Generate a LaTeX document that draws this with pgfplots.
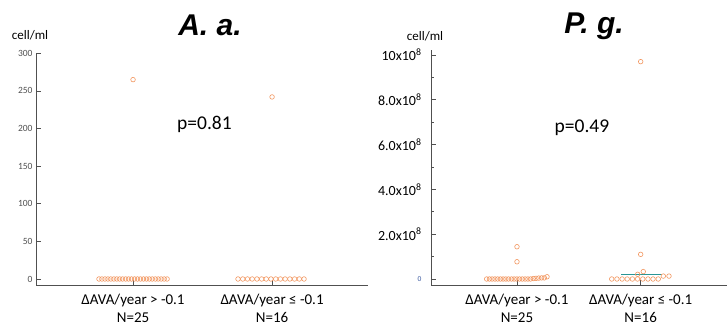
\documentclass[border=0pt]{standalone}
\usepackage{fontspec}
\setmainfont{Carlito}
\newfontfamily\titlefont{Liberation Sans}
\usepackage{pgfplots}
\pgfplotsset{compat=1.18}
\definecolor{dotorange}{RGB}{242,150,95}
\definecolor{axisgray}{RGB}{80,80,80}
\definecolor{medteal}{RGB}{40,150,150}
\definecolor{zeroblue}{RGB}{60,90,160}
\begin{document}
\begin{tikzpicture}
\useasboundingbox (0pt,0pt) rectangle (727pt,325pt);
% ---------- left panel ----------
\begin{axis}[
  at={(36pt,40pt)}, anchor=south west, scale only axis,
  width=332pt, height=231.7pt,
  xmin=0.302, xmax=2.69, ymin=-8, ymax=300,
  axis x line=bottom, axis y line=left,
  axis line style={-, draw=axisgray, line width=0.8pt},
  tick style={draw=axisgray, line width=0.6pt},
  tick align=inside, major tick length=5pt,
  xtick={1,2},
  xticklabels={{ΔAVA/year > -0.1\\N=25},{ΔAVA/year ≤ -0.1\\N=16}},
  xticklabel style={align=center, font=\fontsize{15}{17.5}\selectfont, text=black, yshift=-6pt},
  ytick={0,50,100,150,200,250,300},
  yticklabel style={font=\fontsize{9.5}{10}\selectfont, text=axisgray},
  /pgf/number format/assume math mode=true,
  clip=false,
]
\addplot[only marks, mark=o, mark size=2.3pt, dotorange, line width=0.6pt] coordinates {
(0.755,0)(0.776,0)(0.798,0)(0.819,0)(0.840,0)(0.862,0)(0.883,0)(0.904,0)(0.925,0)(0.947,0)(0.968,0)(0.989,0)(1.011,0)(1.032,0)(1.053,0)(1.075,0)(1.096,0)(1.117,0)(1.138,0)(1.160,0)(1.181,0)(1.202,0)(1.224,0)(1.245,0)
(1.0,265)
};
\addplot[only marks, mark=o, mark size=2.3pt, dotorange, line width=0.6pt] coordinates {
(1.755,0)(1.789,0)(1.823,0)(1.857,0)(1.891,0)(1.925,0)(1.958,0)(1.992,0)(2.026,0)(2.060,0)(2.094,0)(2.128,0)(2.162,0)(2.196,0)(2.230,0)
(2.0,242)
};
\end{axis}
% ---------- right panel ----------
\begin{axis}[
  at={(431pt,40pt)}, anchor=south west, scale only axis,
  width=296pt, height=235pt,
  xmin=0.305, xmax=2.698, ymin=-0.268, ymax=10.22,
  axis x line=bottom, axis y line=left,
  axis line style={-, draw=axisgray, line width=0.8pt},
  tick style={draw=axisgray, line width=0.6pt},
  tick align=inside, major tick length=5pt, minor tick length=3pt,
  xtick={1,2},
  xticklabels={{ΔAVA/year > -0.1\\N=25},{ΔAVA/year ≤ -0.1\\N=16}},
  xticklabel style={align=center, font=\fontsize{15}{17.5}\selectfont, text=black, yshift=-6pt},
  ytick={0,2,4,6,8,10},
  minor ytick={1,3,5,7,9},
  yticklabels={{\color{zeroblue}\fontsize{7.5}{8}\selectfont 0},2.0x10\textsuperscript{8},4.0x10\textsuperscript{8},6.0x10\textsuperscript{8},8.0x10\textsuperscript{8},10x10\textsuperscript{8}},
  yticklabel style={font=\fontsize{14}{16}\selectfont, text=black, xshift=-6pt},
  clip=false,
]
\addplot[medteal, line width=1pt] coordinates {(1.841,0.18)(2.172,0.18)};
\addplot[only marks, mark=o, mark size=2.3pt, dotorange, line width=0.6pt] coordinates {
(0.755,0)(0.777,0)(0.799,0)(0.822,0)(0.844,0)(0.866,0)(0.888,0)(0.910,0)(0.932,0)(0.955,0)(0.977,0)(0.999,0)(1.021,0)(1.043,0)(1.066,0)(1.088,0)(1.110,0)
(1.132,0.02)(1.154,0.03)(1.176,0.04)(1.199,0.05)(1.221,0.05)(1.243,0.10)
(1.0,0.77)(1.0,1.44)
};
\addplot[only marks, mark=o, mark size=2.3pt, dotorange, line width=0.6pt] coordinates {
(1.766,0)(1.808,0)(1.850,0)(1.891,0)(1.933,0)(1.975,0)(2.017,0)(2.059,0)(2.100,0)(2.142,0)
(1.976,0.21)(2.021,0.33)(2.183,0.13)(2.229,0.13)
(2.0,1.1)(2.0,9.7)
};
\end{axis}
% ---------- texts ----------
\node[font=\titlefont\bfseries\itshape\fontsize{30}{32}\selectfont, anchor=base] at (210pt,290pt) {A. a.};
\node[font=\titlefont\bfseries\itshape\fontsize{30}{32}\selectfont, anchor=base] at (594pt,292pt) {P. g.};
\node[font=\fontsize{13}{15}\selectfont] at (30pt,290pt) {cell/ml};
\node[font=\fontsize{13}{15}\selectfont] at (425pt,289pt) {cell/ml};
\node[font=\fontsize{19.5}{22}\selectfont] at (204.5pt,201pt) {p=0.81};
\node[font=\fontsize{19.5}{22}\selectfont] at (582pt,197pt) {p=0.49};
\end{tikzpicture}
\end{document}
